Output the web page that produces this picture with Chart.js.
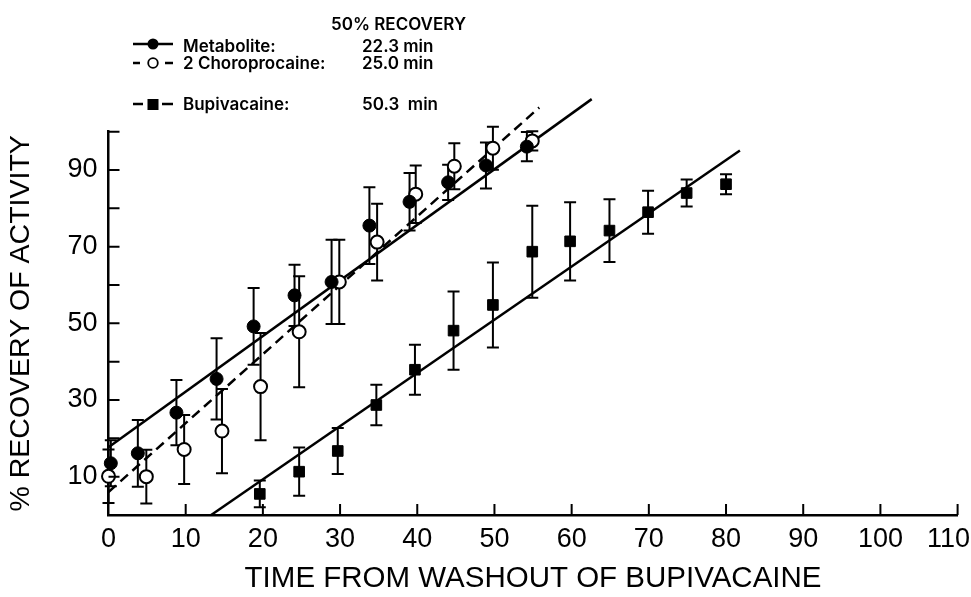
<!DOCTYPE html>
<html><head><meta charset="utf-8">
<script src="https://cdn.jsdelivr.net/npm/chart.js@4.4.1/dist/chart.umd.min.js"></script>
<style>html,body{margin:0;padding:0;background:#fff;}#c{display:block;}</style>
</head><body>
<canvas id="c" width="971" height="597"></canvas>
<script>
// ---- data ----
const metaX   = [0.3, 3.8, 8.8, 14.0, 18.8, 24.1, 28.9, 33.8, 39.0, 44.0, 48.9, 54.2];
const metaY   = [13.5, 16.1, 26.7, 35.5, 49.2, 57.3, 60.8, 75.5, 81.7, 86.8, 91.2, 96.1];
const metaErr = [6.0, 8.7, 8.5, 10.6, 10.0, 8.0, 11.0, 10.0, 7.5, 4.6, 6.0, 3.8];

const chloroX   = [0.0, 4.9, 9.8, 14.7, 19.7, 24.7, 29.9, 34.8, 39.8, 44.8, 49.8, 54.9];
const chloroY   = [10.1, 10.0, 17.1, 21.9, 33.5, 47.8, 60.8, 71.2, 83.7, 91.0, 95.7, 97.6];
const chloroErr = [7.0, 7.0, 9.0, 11.0, 14.0, 14.5, 11.0, 10.0, 7.5, 6.0, 5.6, 2.5];

const bupiX   = [19.6, 24.7, 29.7, 34.7, 39.7, 44.7, 49.8, 54.9, 59.8, 64.9, 69.9, 74.9, 80.0];
const bupiY   = [5.5, 11.3, 16.7, 28.7, 37.9, 48.1, 54.8, 68.7, 71.4, 74.2, 79.0, 84.0, 86.3];
const bupiErr = [3.5, 6.3, 6.0, 5.3, 6.5, 10.2, 11.1, 12.0, 10.2, 8.2, 5.6, 3.5, 2.6];

const metaFitX = [0, 62.6],    metaFitY = [17.7, 108.5];
const chloroFitX = [0, 55.8],  chloroFitY = [6.0, 106.3];
const bupiFitX = [13.3, 81.8], bupiFitY = [0, 95.1];

const xTicks = [0, 10, 20, 30, 40, 50, 60, 70, 80, 90, 100, 110];
const yTickMarks = [10, 20, 30, 40, 50, 60, 70, 80, 90, 100];
const yLabels = [10, 30, 50, 70, 90];

const xTitle = 'TIME FROM WASHOUT OF BUPIVACAINE';
const yTitle = '% RECOVERY OF ACTIVITY';
const legendHeader = '50% RECOVERY';
const legendLabels = ['Metabolite:', '2 Choroprocaine:', 'Bupivacaine:'];
const legendTimes  = ['22.3 min', '25.0 min', '50.3  min'];

const zip = (xs, ys) => xs.map((x, i) => ({x: x, y: ys[i]}));
const FONT = "'Liberation Sans', Arial, sans-serif";
const LFONT = "Inter, 'Liberation Sans', Arial, sans-serif";
const TICK_SIZE = 27;

// ---- plugins ----
const errorBars = {
  id: 'errorBars',
  beforeDatasetsDraw(chart) {
    const ctx = chart.ctx, xs = chart.scales.x, ys = chart.scales.y;
    ctx.save();
    ctx.strokeStyle = '#000';
    ctx.lineWidth = 2;
    chart.data.datasets.forEach(ds => {
      if (!ds.errors) return;
      ds.data.forEach((p, j) => {
        const e = ds.errors[j];
        const px = xs.getPixelForValue(p.x);
        const y1 = ys.getPixelForValue(p.y + e);
        const y2 = ys.getPixelForValue(p.y - e);
        ctx.beginPath();
        ctx.moveTo(px, y1); ctx.lineTo(px, y2);
        ctx.moveTo(px - 6, y1); ctx.lineTo(px + 6, y1);
        ctx.moveTo(px - 6, y2); ctx.lineTo(px + 6, y2);
        ctx.stroke();
      });
    });
    ctx.restore();
  }
};

const innerTicks = {
  id: 'innerTicks',
  afterDraw(chart) {
    const ctx = chart.ctx, xs = chart.scales.x, ys = chart.scales.y;
    const a = chart.chartArea;
    ctx.save();
    ctx.strokeStyle = '#000';
    ctx.lineWidth = 2;
    ctx.beginPath();
    xTicks.forEach(v => {
      if (v === 0) return;
      const px = xs.getPixelForValue(v);
      ctx.moveTo(px, a.bottom); ctx.lineTo(px, a.bottom - 11);
    });
    yTickMarks.forEach(v => {
      const py = ys.getPixelForValue(v);
      ctx.moveTo(a.left, py); ctx.lineTo(a.left + 11, py);
    });
    ctx.stroke();
    // last x label: kept inside the canvas edge
    const last = xTicks[xTicks.length - 1];
    const s = String(last);
    ctx.font = TICK_SIZE + 'px ' + FONT;
    ctx.fillStyle = '#000';
    ctx.textBaseline = 'middle';
    const w = ctx.measureText(s).width;
    const px = xs.getPixelForValue(last);
    const left = Math.min(px - w / 2, chart.width - 1 - w);
    ctx.textAlign = 'left';
    ctx.fillText(s, left, a.bottom + 8 + TICK_SIZE * 0.6);
    ctx.restore();
  }
};

const customLegend = {
  id: 'customLegend',
  afterDraw(chart) {
    const ctx = chart.ctx;
    ctx.save();
    ctx.fillStyle = '#000';
    ctx.strokeStyle = '#000';
    ctx.textBaseline = 'middle';
    ctx.textAlign = 'left';
    ctx.font = '600 17px ' + LFONT;
    ctx.fillText(legendHeader, 331, 25);
    const rows = [46.5, 63.5, 104.5];
    rows.forEach((y, i) => {
      ctx.fillText(legendLabels[i], 183, y);
      ctx.fillText(legendTimes[i], 362, y);
    });
    ctx.lineWidth = 2.5;
    ctx.beginPath(); ctx.moveTo(133, 44); ctx.lineTo(173, 44); ctx.stroke();
    ctx.beginPath(); ctx.arc(153, 44, 5.5, 0, Math.PI * 2); ctx.fill();
    ctx.beginPath(); ctx.moveTo(133, 63); ctx.lineTo(140, 63); ctx.moveTo(165, 63); ctx.lineTo(173, 63); ctx.stroke();
    ctx.lineWidth = 1.8;
    ctx.beginPath(); ctx.arc(153, 63, 4.8, 0, Math.PI * 2); ctx.stroke();
    ctx.lineWidth = 2.5;
    ctx.beginPath(); ctx.moveTo(133, 104); ctx.lineTo(143, 104); ctx.moveTo(162, 104); ctx.lineTo(173, 104); ctx.stroke();
    ctx.fillRect(147.5, 99, 11, 11);
    ctx.restore();
  }
};

// ---- chart ----
new Chart(document.getElementById('c'), {
  type: 'scatter',
  data: {
    datasets: [
      { label: 'Metabolite', data: zip(metaX, metaY), errors: metaErr,
        pointStyle: 'circle', pointRadius: 6.5, pointBackgroundColor: '#000', pointBorderColor: '#000', pointBorderWidth: 1, clip: false },
      { label: '2 Choroprocaine', data: zip(chloroX, chloroY), errors: chloroErr,
        pointStyle: 'circle', pointRadius: 6.5, pointBackgroundColor: '#fff', pointBorderColor: '#000', pointBorderWidth: 2, clip: false },
      { label: 'Bupivacaine', data: zip(bupiX, bupiY), errors: bupiErr,
        pointStyle: 'rect', pointRadius: 7.5, pointBackgroundColor: '#000', pointBorderColor: '#000', pointBorderWidth: 1, clip: false },
      { label: 'Metabolite fit', data: zip(metaFitX, metaFitY), showLine: true, pointRadius: 0,
        borderColor: '#000', borderWidth: 2.5, clip: false },
      { label: '2 Choroprocaine fit', data: zip(chloroFitX, chloroFitY), showLine: true, pointRadius: 0,
        borderColor: '#000', borderWidth: 2.5, borderDash: [10, 6], clip: false },
      { label: 'Bupivacaine fit', data: zip(bupiFitX, bupiFitY), showLine: true, pointRadius: 0,
        borderColor: '#000', borderWidth: 2.5, clip: false }
    ]
  },
  options: {
    responsive: false,
    animation: false,
    devicePixelRatio: 1,
    layout: { padding: { top: 131.7, right: 13.4, left: 0, bottom: 0 } },
    plugins: { legend: { display: false }, tooltip: { enabled: false } },
    scales: {
      x: {
        type: 'linear', min: 0, max: 110,
        afterFit(s) { s.height = 82; s.paddingLeft = 0; s.paddingRight = 0; },
        afterBuildTicks(s) { s.ticks = xTicks.slice(0, -1).map(v => ({value: v})); },
        grid: { display: false, drawTicks: false },
        border: { display: true, color: '#000', width: 2.5 },
        ticks: { color: '#000', padding: 8, font: { family: FONT, size: TICK_SIZE }, maxRotation: 0, autoSkip: false },
        title: { display: true, text: xTitle, color: '#000', font: { family: FONT, size: 29.5, lineHeight: 1.2 }, padding: 0 }
      },
      y: {
        type: 'linear', min: 0, max: 100,
        afterFit(s) { s.width = 108.5; s.paddingTop = 0; s.paddingBottom = 0; },
        afterBuildTicks(s) { s.ticks = yLabels.map(v => ({value: v})); },
        grid: { display: false, drawTicks: false },
        border: { display: true, color: '#000', width: 2.5 },
        ticks: { color: '#000', padding: 11, font: { family: FONT, size: TICK_SIZE }, autoSkip: false },
        title: { display: true, text: yTitle, color: '#000', font: { family: FONT, size: 28.5, lineHeight: 1.5 }, padding: 0 }
      }
    }
  },
  plugins: [errorBars, innerTicks, customLegend]
});
</script>
</body></html>
